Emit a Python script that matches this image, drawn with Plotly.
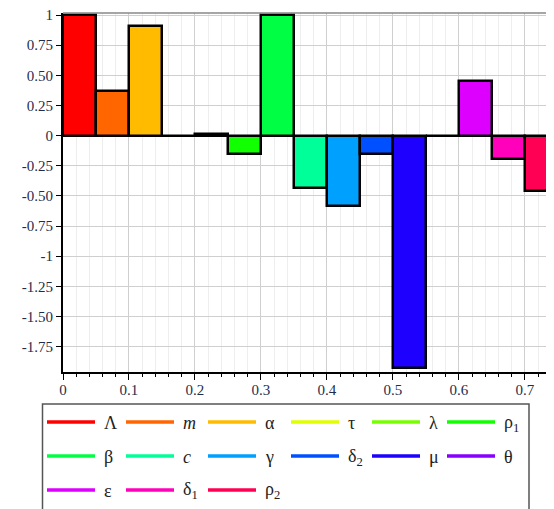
import plotly.graph_objects as go

# ---- data ----
symbols = ["Λ", "<i>m</i>", "α", "τ", "λ", "ρ<sub>1</sub>", "β", "<i>c</i>", "γ",
           "δ<sub>2</sub>", "μ", "θ", "ε", "δ<sub>1</sub>", "ρ<sub>2</sub>"]
bar_left = [0.00, 0.05, 0.10, 0.15, 0.20, 0.25, 0.30, 0.35, 0.40,
            0.45, 0.50, 0.55, 0.60, 0.65, 0.70]
bar_width = 0.05
values = [1.0, 0.373, 0.907, 0.0, 0.012, -0.155, 1.0, -0.43, -0.58,
          -0.15, -1.925, -0.006, 0.457, -0.197, -0.46]
colors = ["#ff0000", "#ff6600", "#ffbb00", "#e0ff00", "#77ff00", "#11ff00",
          "#00ff44", "#00ff99", "#00a0ff", "#0050ff", "#1e00ff", "#8800ff",
          "#dd00ff", "#ff00bb", "#ff0055"]
y_ticks = [1, 0.75, 0.5, 0.25, 0, -0.25, -0.5, -0.75, -1, -1.25, -1.5, -1.75]
y_ticktext = ["1", "0.75", "0.50", "0.25", "0", "-0.25", "-0.50", "-0.75",
              "-1", "-1.25", "-1.50", "-1.75"]
x_ticks = [0, 0.1, 0.2, 0.3, 0.4, 0.5, 0.6, 0.7]
x_ticktext = ["0", "0.1", "0.2", "0.3", "0.4", "0.5", "0.6", "0.7"]

# page body has an 8px margin; figure is laid out in its own coordinates
OFF = 8
W, H = 554 - OFF, 509 - OFF
L, R, T = 63 - OFF, 0, 13 - OFF
B = H - (372 - OFF)

fig = go.Figure()
fig.add_trace(go.Bar(
    x=[b + bar_width / 2 for b in bar_left],
    y=values,
    width=bar_width,
    marker=dict(color=colors, line=dict(color="black", width=2.5)),
    showlegend=False,
    hoverinfo="skip",
))

SERIF = "Liberation Serif, Times New Roman, serif"
tickfont = dict(family=SERIF, size=15, color="#1f2d4d")

fig.update_layout(
    width=W, height=H,
    margin=dict(l=L, r=R, t=T, b=B, pad=0),
    paper_bgcolor="white", plot_bgcolor="white",
    bargap=0,
    xaxis=dict(
        range=[0, 0.744],
        tickvals=x_ticks, ticktext=x_ticktext,
        tickfont=tickfont,
        ticklabeloverflow="allow",
        ticklabelstandoff=-3,
        showgrid=True, gridcolor="#cfcfcf", gridwidth=1,
        minor=dict(dtick=0.02, tick0=0, showgrid=True, gridcolor="#eeeeee",
                   ticks="outside", ticklen=3, tickcolor="black"),
        ticks="outside", ticklen=6, tickcolor="black", tickwidth=1,
        showline=True, linecolor="black", linewidth=2,
        zeroline=False,
    ),
    yaxis=dict(
        range=[-1.96, 1.017],
        tickvals=y_ticks, ticktext=y_ticktext,
        tickfont=tickfont,
        ticklabeloverflow="allow",
        showgrid=True, gridcolor="#cfcfcf", gridwidth=1,
        ticks="outside", ticklen=5, tickcolor="black", tickwidth=1,
        showline=True, linecolor="black", linewidth=2,
        zeroline=True, zerolinecolor="black", zerolinewidth=2,
    ),
)

# top frame line
fig.add_shape(type="line", xref="paper", yref="paper", x0=0, x1=1, y0=1, y1=1,
              line=dict(color="#888888", width=1.5))

# ---- manual legend (positions given in window pixels) ----
pw = W - L - R
ph = H - T - B

def px(x):
    return (x - OFF - L) / pw

def py(y):
    return (H - B - (y - OFF)) / ph

fig.add_shape(type="rect", xref="paper", yref="paper",
              x0=px(42.5), x1=px(529), y0=py(404), y1=py(540),
              line=dict(color="#555555", width=1.5), fillcolor="rgba(0,0,0,0)")

col_x = [47, 126, 208, 291, 372, 447]
row_y = [422, 456, 490]
for i, (sym, col) in enumerate(zip(symbols, colors)):
    r, c = divmod(i, 6)
    x0 = col_x[c]
    yy = row_y[r]
    fig.add_shape(type="line", xref="paper", yref="paper",
                  x0=px(x0), x1=px(x0 + 48), y0=py(yy), y1=py(yy),
                  line=dict(color=col, width=3.5))
    fig.add_annotation(xref="paper", yref="paper", x=px(x0 + 55), y=py(yy + 1),
                       text=sym, showarrow=False, xanchor="left", yanchor="middle",
                       font=dict(family=SERIF, size=18, color="#222222"))

fig.write_html("out.html")
